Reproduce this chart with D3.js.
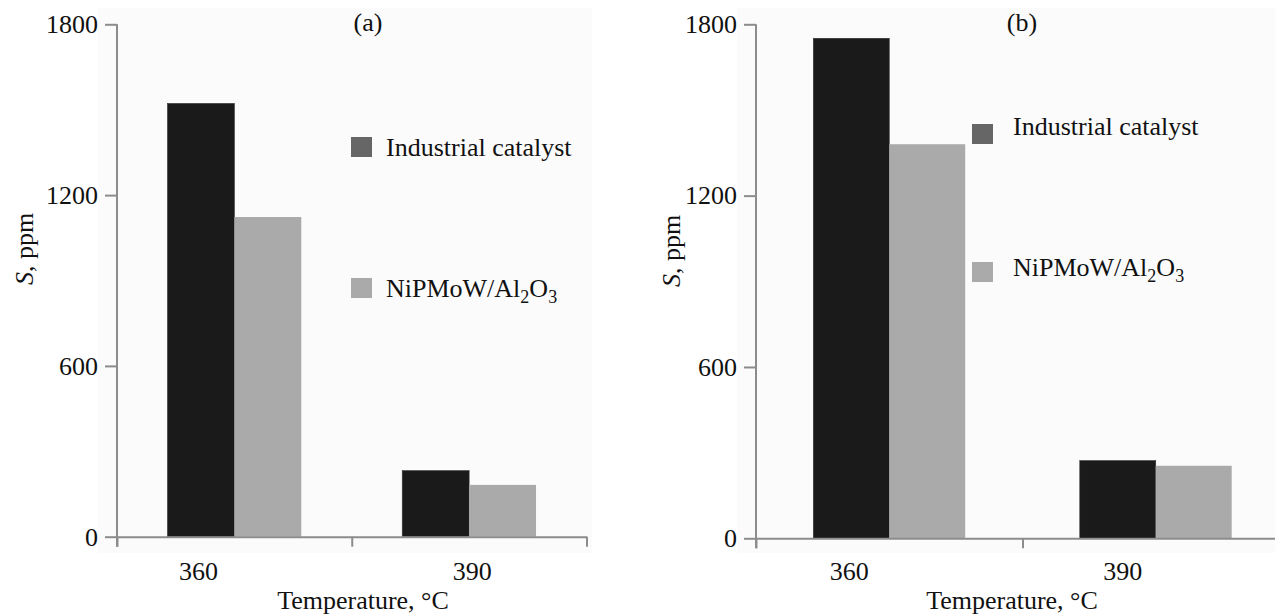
<!DOCTYPE html>
<html>
<head>
<meta charset="utf-8">
<script src="https://cdn.jsdelivr.net/npm/d3@7"></script>
<style>
  html, body { margin: 0; padding: 0; background: #ffffff; }
  svg { display: block; }
  text { font-family: "Liberation Serif", "Times New Roman", serif; fill: #111; }
</style>
</head>
<body>
<svg id="chart" width="1275" height="614"></svg>
<script>
// ---- data ----
const categories = ["360", "390"];
const seriesNames = ["Industrial catalyst", "NiPMoW/Al2O3"];
const industrialA = [1522, 232];
const nipmowA = [1123, 182];
const industrialB = [1751, 272];
const nipmowB = [1380, 254];
const yTicks = [0, 600, 1200, 1800];
const panelTitles = ["(a)", "(b)"];
const xTitle = "Temperature, \u00B0C";

// ---- layout ----
const svg = d3.select("#chart");
const barColors = ["#1a1a1a", "#aaaaaa"];
const legendColors = ["#666666", "#aaaaaa"];
const axisColor = "#8c8c8c";

const panels = [
  { title: panelTitles[0], values: [industrialA, nipmowA],
    x0: 117, x1: 586.5, yBottom: 536.7, yTop: 24.3,
    bg: [98, 8, 494, 545],
    labelOffsets: [-36, 3], xTitleX: 363,
    yLabelX: 33, yLabelY: 249, titleX: 368,
    legendSq: [[351, 137], [351, 278]], legendTxt: [[386, 156], [386, 297]] },
  { title: panelTitles[1], values: [industrialB, nipmowB],
    x0: 756, x1: 1289, yBottom: 538.3, yTop: 24.3,
    bg: [737, 8, 538, 545],
    labelOffsets: [-40, -33], xTitleX: 1012,
    yLabelX: 680, yLabelY: 251, titleX: 1022,
    legendSq: [[972, 124], [972, 262]], legendTxt: [[1013, 135], [1013, 276]] }
];

panels.forEach(p => {
  const g = svg.append("g");

  // faint plot background
  g.append("rect").attr("x", p.bg[0]).attr("y", p.bg[1])
    .attr("width", p.bg[2]).attr("height", p.bg[3]).attr("fill", "#fbfbfb");

  const y = d3.scaleLinear().domain([0, 1800]).range([p.yBottom, p.yTop]);
  const x = d3.scaleBand().domain(categories).range([p.x0, p.x1])
    .paddingInner(0.43).paddingOuter(0.215);
  const xs = d3.scaleBand().domain(d3.range(seriesNames.length)).range([0, x.bandwidth()]);
  const xb = d3.scaleLinear().domain([0, categories.length]).range([p.x0, p.x1]);

  // bars
  p.values.forEach((vals, si) => {
    g.selectAll(null).data(vals).enter().append("rect")
      .attr("x", (d, i) => x(categories[i]) + xs(si))
      .attr("y", d => y(d))
      .attr("width", xs.bandwidth())
      .attr("height", d => y(0) - y(d))
      .attr("fill", barColors[si])
      .attr("stroke", si === 0 ? "#333" : "none")
      .attr("stroke-width", 0.6);
  });

  // x axis (boundary ticks)
  const xAxis = g.append("g").attr("transform", `translate(0,${p.yBottom})`)
    .call(d3.axisBottom(xb).tickValues(d3.range(categories.length + 1))
      .tickFormat("").tickSize(10).tickSizeOuter(0));
  xAxis.selectAll("path,line").attr("stroke", axisColor).attr("stroke-width", 2);

  // y axis
  const yAxis = g.append("g").attr("transform", `translate(${p.x0},0)`)
    .call(d3.axisLeft(y).tickValues(yTicks).tickFormat(d3.format("d"))
      .tickSize(12).tickSizeOuter(0).tickPadding(7));
  yAxis.select(".domain").remove();
  yAxis.selectAll("line").attr("stroke", axisColor).attr("stroke-width", 2);
  yAxis.selectAll("text").style("font-family", '"Liberation Serif", serif')
    .style("font-size", "26px").attr("fill", "#111");
  g.append("line").attr("x1", p.x0).attr("x2", p.x0)
    .attr("y1", y(1800)).attr("y2", p.yBottom + 10)
    .attr("stroke", axisColor).attr("stroke-width", 2);

  // category labels
  g.selectAll(null).data(categories).enter().append("text")
    .attr("x", (d, i) => x(d) + x.bandwidth() / 2 + p.labelOffsets[i])
    .attr("y", 580).attr("text-anchor", "middle")
    .style("font-size", "26px").text(d => d);

  // x title
  g.append("text").attr("x", p.xTitleX).attr("y", 609).attr("text-anchor", "middle")
    .style("font-size", "26px").text(xTitle);

  // y label
  const yl = g.append("text")
    .attr("transform", `translate(${p.yLabelX},${p.yLabelY}) rotate(-90)`)
    .attr("text-anchor", "middle").style("font-size", "26px");
  yl.append("tspan").style("font-style", "italic").text("S");
  yl.append("tspan").text(", ppm");

  // panel title
  g.append("text").attr("x", p.titleX).attr("y", 31).attr("text-anchor", "middle")
    .style("font-size", "26px").text(p.title);

  // legend
  seriesNames.forEach((name, i) => {
    g.append("rect").attr("x", p.legendSq[i][0]).attr("y", p.legendSq[i][1])
      .attr("width", 21).attr("height", 20).attr("fill", legendColors[i]);
    const t = g.append("text").attr("x", p.legendTxt[i][0]).attr("y", p.legendTxt[i][1])
      .style("font-size", "26px");
    if (name.indexOf("Al2O3") >= 0) {
      t.append("tspan").text("NiPMoW/Al");
      t.append("tspan").attr("dy", 6).style("font-size", "18px").text("2");
      t.append("tspan").attr("dy", -6).text("O");
      t.append("tspan").attr("dy", 6).style("font-size", "18px").text("3");
    } else {
      t.text(name);
    }
  });
});
</script>
</body>
</html>
